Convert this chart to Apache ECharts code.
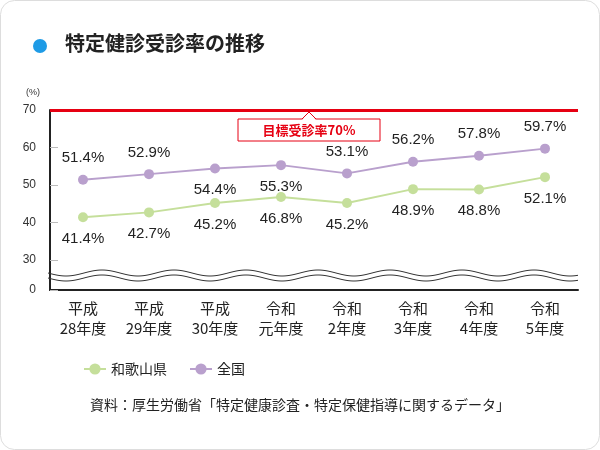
<!DOCTYPE html><html><head><meta charset="utf-8"><script src="https://cdn.jsdelivr.net/npm/echarts@6/dist/echarts.min.js"></script>
<style>html,body{margin:0;background:#fff}#c{width:600px;height:450px}</style></head><body><div id="c"></div><script>
const categories=['平成\n28年度','平成\n29年度','平成\n30年度','令和\n元年度','令和\n2年度','令和\n3年度','令和\n4年度','令和\n5年度'];
const wakayama=[41.4,42.7,45.2,46.8,45.2,48.9,48.8,52.1];
const national=[51.4,52.9,54.4,55.3,53.1,56.2,57.8,59.7];
const nationalPos=['top','top','bottom','bottom','top','top','top','top'];
const yTicks=[22,30,40,50,60,70];
const F='"Noto Sans CJK JP",sans-serif';
const ch=echarts.init(document.getElementById('c'));
const lbl={show:true,fontSize:15,color:'#222',fontFamily:'Arial, "Liberation Sans", sans-serif',formatter:p=>p.value.toFixed(1)+'%',distance:9};
ch.setOption({
 animation:false,
 legend:{left:78,top:357,itemGap:22,itemWidth:22,textStyle:{fontSize:14,fontFamily:F,color:'#222'},data:['和歌山県','全国']},
 grid:{left:50,right:22,top:110,bottom:160},
 xAxis:{type:'category',data:categories,boundaryGap:true,axisLine:{lineStyle:{color:'#222',width:2}},
  axisTick:{alignWithLabel:true,lineStyle:{color:'#bbb'},inside:true,length:6},
  axisLabel:{fontSize:15,fontFamily:F,color:'#222',lineHeight:20,margin:8}},
 yAxis:{type:'value',min:22,max:70,splitLine:{show:false},
  axisLine:{show:true,lineStyle:{color:'#222',width:2}},
  axisTick:{show:true,customValues:yTicks,length:8,inside:true,lineStyle:{color:'#bbb'}},
  axisLabel:{customValues:yTicks,fontSize:12,color:'#333',margin:14,formatter:v=>v===22?'0':String(v)}},
 series:[
  {name:'和歌山県',type:'line',data:wakayama,color:'#c5df9b',symbol:'circle',symbolSize:10,lineStyle:{width:2},label:Object.assign({},lbl,{position:'bottom'}),z:3,
   markLine:{silent:true,symbol:'none',label:{show:false},lineStyle:{color:'#e60012',width:3,type:'solid'},data:[{yAxis:70}]}},
  {name:'全国',type:'line',data:national.map((v,i)=>({value:v,label:{position:nationalPos[i]}})),color:'#b9a0cd',symbol:'circle',symbolSize:10,lineStyle:{width:2},label:lbl,z:3}
 ]
});
function wave(y){const pts=[];for(let x=48;x<=578;x+=2){pts.push([x,y+3*Math.sin((x-48)/72*2*Math.PI)]);}return pts;}
const yb=ch.convertToPixel({yAxisIndex:0},26);
ch.setOption({graphic:[
 {type:'rect',shape:{x:0.5,y:0.5,width:599,height:449,r:14},style:{fill:null,stroke:'#ddd'},z:-1},
 {type:'circle',shape:{cx:40,cy:46,r:7},style:{fill:'#1e9be6'}},
 {type:'text',x:65,y:33,style:{text:'特定健診受診率の推移',font:'bold 20px '+F,fill:'#222'}},
 {type:'text',x:26,y:88,style:{text:'(%)',font:'9px sans-serif',fill:'#333'}},
 {type:'text',x:90,y:398,style:{text:'資料：厚生労働省「特定健康診査・特定保健指導に関するデータ」',font:'14px '+F,fill:'#222'}},
 {type:'polyline',shape:{points:wave(yb-2)},style:{stroke:'#333',lineWidth:1,fill:null},z:10},
 {type:'polyline',shape:{points:wave(yb+3)},style:{stroke:'#333',lineWidth:1,fill:null},z:10},
 {type:'rect',shape:{x:238,y:119,width:142,height:22},style:{fill:'#fff',stroke:'#e60012',lineWidth:1},z:11},
 {type:'polygon',shape:{points:[[302,120],[309,112],[316,120]]},style:{fill:'#fff',stroke:null},z:12},
 {type:'polyline',shape:{points:[[302,119],[309,112],[316,119]]},style:{stroke:'#e60012',lineWidth:1,fill:null},z:12},
 {type:'text',x:309,y:130,style:{text:'目標受診率70%',font:'bold 13px '+F,fill:'#e60012',align:'center',verticalAlign:'middle'},z:13}
]});
</script></body></html>
